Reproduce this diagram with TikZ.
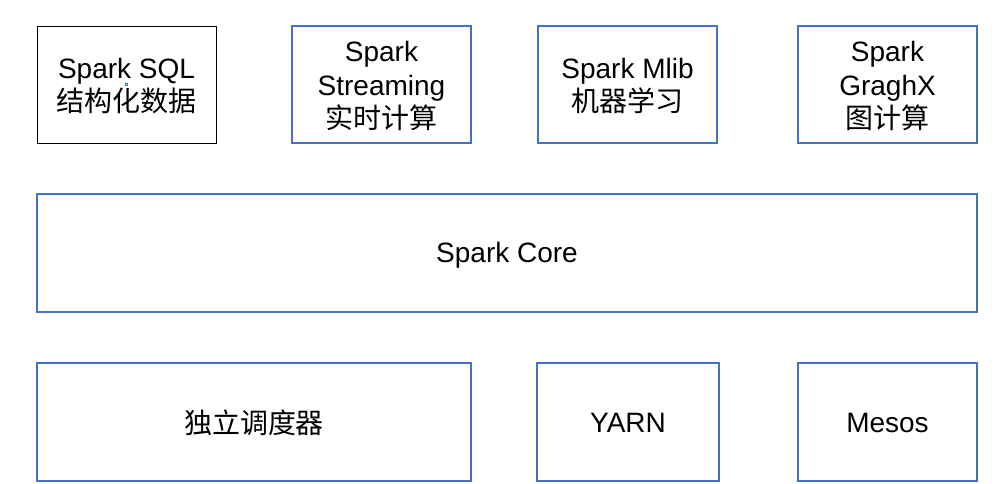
\documentclass[tikz,border=0pt]{standalone}
\usepackage{fontspec}
\setmainfont{Liberation Sans}
\newfontfamily\cjk{Noto Sans CJK SC}
\definecolor{boxblue}{HTML}{4472C4}
\begin{document}
\begin{tikzpicture}[x=0.75pt,y=0.75pt,yscale=-1,xscale=1,
  blk/.style={draw=boxblue,line width=0.9pt,align=center,inner sep=0pt,
    font=\fontsize{21}{25}\selectfont}]
\useasboundingbox (0,0) rectangle (1001,483);

% top row
\draw (37,26) rectangle (216,143) node [blk,midway] (sql) {};
\node [align=center,font=\fontsize{21}{25}\selectfont] (sqlt) at (126.5,86) {Spark SQL\\{\cjk 结构化数据}};
\draw [boxblue,line width=0.9pt] (292,26) rectangle (471,143);
\node [align=center,font=\fontsize{21}{25}\selectfont] (stream) at (381.5,86) {Spark\\Streaming\\{\cjk 实时计算}};
\draw [boxblue,line width=0.9pt] (538,26) rectangle (717,143);
\node [align=center,font=\fontsize{21}{25}\selectfont] (mlib) at (627.5,86) {Spark Mlib\\{\cjk 机器学习}};
\draw [boxblue,line width=0.9pt] (798,26) rectangle (977,143);
\node [align=center,font=\fontsize{21}{25}\selectfont] (graph) at (887.5,86) {Spark\\GraghX\\{\cjk 图计算}};

% core
\draw [boxblue,line width=0.9pt] (37,194) rectangle (977,312);
\node [font=\fontsize{21}{25}\selectfont] (core) at (507,255) {Spark Core};

% bottom row
\draw [boxblue,line width=0.9pt] (37,363) rectangle (471,481);
\node [font=\fontsize{21}{25}\selectfont\cjk] (standalone) at (254,423) {独立调度器};
\draw [boxblue,line width=0.9pt] (537,363) rectangle (719,481);
\node [font=\fontsize{21}{25}\selectfont] (yarn) at (628,423) {YARN};
\draw [boxblue,line width=0.9pt] (798,363) rectangle (977,481);
\node [font=\fontsize{21}{25}\selectfont] (mesos) at (887.5,423) {Mesos};
\end{tikzpicture}
\end{document}
